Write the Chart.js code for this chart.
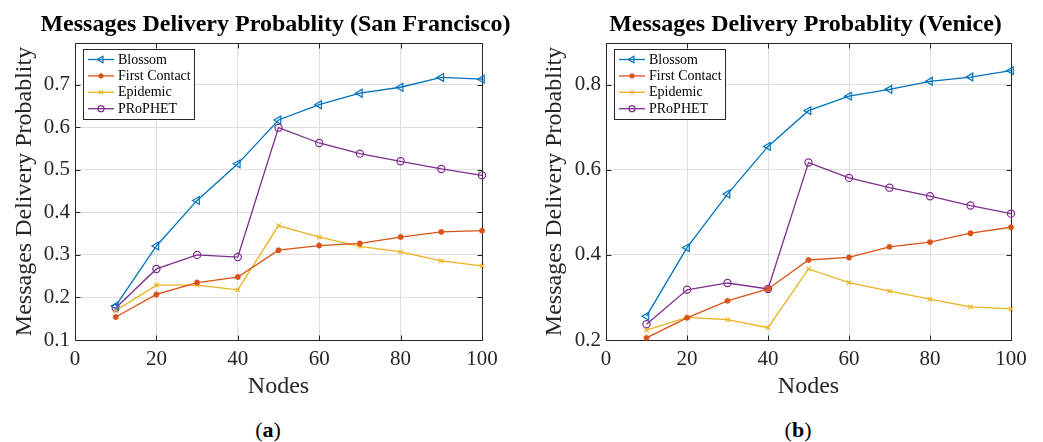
<!DOCTYPE html>
<html>
<head>
<meta charset="utf-8">
<title>Messages Delivery Probablity</title>
<script src="https://cdn.jsdelivr.net/npm/chart.js@4"></script>
<style>
  html, body { margin: 0; padding: 0; background: #fff; width: 1043px; height: 442px; overflow: hidden; }
  .panel { position: absolute; top: 0; }
  #panelA { left: 0; width: 530px; height: 405px; }
  #panelB { left: 530px; width: 513px; height: 405px; }
  .cap { position: absolute; top: 417px; width: 80px; height: 26px; line-height: 26px; text-align: center;
         font-family: "Liberation Serif", "Times New Roman", serif; font-size: 22px; color: #000; }
</style>
</head>
<body>
<div class="panel" id="panelA"><canvas id="chartA" width="530" height="405"></canvas></div>
<div class="panel" id="panelB"><canvas id="chartB" width="513" height="405"></canvas></div>
<div class="cap" style="left:228px">(<b>a</b>)</div>
<div class="cap" style="left:758px">(<b>b</b>)</div>
<script>
// ---- data ----
const nodes = [10, 20, 30, 40, 50, 60, 70, 80, 90, 100];
const xTickValues = [0, 20, 40, 60, 80, 100];
const seriesNames = ['Blossom', 'First Contact', 'Epidemic', 'PRoPHET'];

// San Francisco
const sfBlossom      = [0.180, 0.321, 0.428, 0.514, 0.617, 0.653, 0.680, 0.694, 0.717, 0.713];
const sfFirstContact = [0.154, 0.207, 0.235, 0.248, 0.311, 0.322, 0.327, 0.342, 0.354, 0.357];
const sfEpidemic     = [0.169, 0.229, 0.229, 0.218, 0.369, 0.342, 0.320, 0.307, 0.286, 0.274];
const sfProphet      = [0.175, 0.267, 0.300, 0.295, 0.599, 0.563, 0.538, 0.520, 0.502, 0.487];
const sfYTickValues  = [0.1, 0.2, 0.3, 0.4, 0.5, 0.6, 0.7];

// Venice
const veBlossom      = [0.256, 0.417, 0.543, 0.655, 0.739, 0.773, 0.789, 0.808, 0.818, 0.833];
const veFirstContact = [0.205, 0.252, 0.292, 0.320, 0.388, 0.394, 0.419, 0.430, 0.451, 0.465];
const veEpidemic     = [0.223, 0.253, 0.248, 0.229, 0.367, 0.335, 0.315, 0.296, 0.278, 0.273];
const veProphet      = [0.237, 0.318, 0.334, 0.320, 0.617, 0.581, 0.558, 0.538, 0.516, 0.497];
const veYTickValues  = [0.2, 0.4, 0.6, 0.8];

// ---- styles ----
const FONT = '"Liberation Serif", "Times New Roman", serif';
const AXIS_COLOR = '#262626';
const GRID_COLOR = '#dfdfdf';
const seriesStyles = [
  { color: '#0072BD', pointStyle: 'triangle', rotation: -90, radius: 4.5, fill: 'rgba(0,0,0,0)', pbw: 1.2 },
  { color: '#D95319', pointStyle: 'star',     rotation: 0,   radius: 3.0, fill: '#D95319',       pbw: 1.6 },
  { color: '#EDB120', pointStyle: 'crossRot', rotation: 0,   radius: 3.2, fill: 'rgba(0,0,0,0)', pbw: 1.1 },
  { color: '#7E2F8E', pointStyle: 'circle',   rotation: 0,   radius: 3.6, fill: 'rgba(0,0,0,0)', pbw: 1.2 }
];

function makeDatasets(seriesValues) {
  return seriesValues.map((vals, i) => {
    const s = seriesStyles[i];
    return {
      label: seriesNames[i],
      data: nodes.map((n, k) => ({ x: n, y: vals[k] })),
      borderColor: s.color,
      borderWidth: 1.3,
      pointStyle: s.pointStyle,
      pointRotation: s.rotation,
      pointRadius: s.radius,
      pointBackgroundColor: s.fill,
      pointBorderColor: s.color,
      pointBorderWidth: s.pbw,
      tension: 0,
      clip: false
    };
  });
}

// Box around the plot area with inward tick marks on all four sides
const axesBox = {
  id: 'axesBox',
  beforeDatasetsDraw(chart) {
    const { ctx, chartArea: a, scales } = chart;
    const L = Math.round(a.left) + 0.5, R = Math.round(a.right) + 0.5;
    const T = Math.round(a.top) + 0.5, B = Math.round(a.bottom) + 0.5;
    ctx.save();
    ctx.strokeStyle = AXIS_COLOR;
    ctx.lineWidth = 1;
    ctx.strokeRect(L, T, R - L, B - T);
    const len = 5;
    ctx.beginPath();
    scales.x.ticks.forEach(t => {
      const px = Math.round(scales.x.getPixelForValue(t.value)) + 0.5;
      ctx.moveTo(px, B); ctx.lineTo(px, B - len);
      ctx.moveTo(px, T); ctx.lineTo(px, T + len);
    });
    scales.y.ticks.forEach(t => {
      const py = Math.round(scales.y.getPixelForValue(t.value)) + 0.5;
      ctx.moveTo(L, py); ctx.lineTo(L + len, py);
      ctx.moveTo(R, py); ctx.lineTo(R - len, py);
    });
    ctx.stroke();
    ctx.restore();
  }
};

// Legend box drawn inside the plot, top-left corner
const insideLegend = {
  id: 'insideLegend',
  afterDatasetsDraw(chart, args, opts) {
    const { ctx, chartArea: a } = chart;
    const x0 = Math.round(a.left + opts.dx) + 0.5, y0 = Math.round(a.top + opts.dy) + 0.5;
    ctx.save();
    ctx.fillStyle = '#fff';
    ctx.fillRect(x0, y0, opts.w, opts.h);
    ctx.strokeStyle = AXIS_COLOR;
    ctx.lineWidth = 1;
    ctx.strokeRect(x0, y0, opts.w, opts.h);
    chart.data.datasets.forEach((ds, i) => {
      const y = y0 + 10 + i * 16.4;
      ctx.strokeStyle = ds.borderColor;
      ctx.lineWidth = ds.borderWidth;
      ctx.beginPath();
      ctx.moveTo(x0 + 4.5, y); ctx.lineTo(x0 + 30.5, y);
      ctx.stroke();
      ctx.fillStyle = ds.pointBackgroundColor;
      ctx.strokeStyle = ds.pointBorderColor;
      ctx.lineWidth = ds.pointBorderWidth;
      Chart.helpers.drawPoint(ctx, {
        pointStyle: ds.pointStyle, rotation: ds.pointRotation,
        radius: ds.pointRadius * 0.85, borderWidth: ds.pointBorderWidth
      }, x0 + 17.5, y);
      ctx.fillStyle = '#000';
      ctx.font = '14px ' + FONT;
      ctx.textAlign = 'left';
      ctx.textBaseline = 'middle';
      ctx.fillText(ds.label, x0 + 34.5, y + 0.5);
    });
    ctx.restore();
  }
};

// Bold heading centred over the plot area
const plotHeading = {
  id: 'plotHeading',
  afterDraw(chart, args, opts) {
    const { ctx, chartArea: a } = chart;
    ctx.save();
    ctx.fillStyle = '#000';
    ctx.font = 'bold ' + opts.size + 'px ' + FONT;
    ctx.textAlign = 'center';
    ctx.textBaseline = 'middle';
    ctx.fillText(opts.text, (a.left + a.right) / 2 + opts.shift, opts.y);
    ctx.restore();
  }
};

function makeChart(canvasId, heading, seriesValues, yMin, yMax, yTicks, yWidth, rightPad) {
  return new Chart(document.getElementById(canvasId), {
    type: 'line',
    data: { datasets: makeDatasets(seriesValues) },
    plugins: [axesBox, insideLegend, plotHeading],
    options: {
      responsive: false,
      animation: false,
      events: [],
      layout: { padding: { top: 43, right: rightPad, bottom: 0, left: 0 } },
      plugins: {
        legend: { display: false },
        tooltip: { enabled: false },
        insideLegend: { dx: 7.5, dy: 5.5, w: 111, h: 70 },
        plotHeading: { text: heading, size: 24, y: 25, shift: -3 }
      },
      scales: {
        x: {
          type: 'linear',
          min: 0, max: 100,
          afterBuildTicks(scale) { scale.ticks = xTickValues.map(v => ({ value: v })); },
          afterFit(scale) { scale.height = 65; },
          ticks: { color: AXIS_COLOR, font: { family: FONT, size: 21 }, padding: 7, maxRotation: 0,
                   callback: v => String(v) },
          grid: { color: GRID_COLOR, drawTicks: false, lineWidth: 1 },
          border: { display: false },
          title: { display: true, text: 'Nodes', color: AXIS_COLOR,
                   font: { family: FONT, size: 24 }, padding: { top: 0, bottom: 3.6 } }
        },
        y: {
          type: 'linear',
          min: yMin, max: yMax,
          afterBuildTicks(scale) { scale.ticks = yTicks.map(v => ({ value: v })); },
          afterFit(scale) { scale.width = yWidth; },
          ticks: { color: AXIS_COLOR, font: { family: FONT, size: 21 }, padding: 5,
                   callback: v => Number(v).toFixed(1) },
          grid: { color: GRID_COLOR, drawTicks: false, lineWidth: 1 },
          border: { display: false },
          title: { display: true, text: 'Messages Delivery Probablity', color: AXIS_COLOR,
                   font: { family: FONT, size: 24 }, padding: { top: 10, bottom: 0 } }
        }
      }
    }
  });
}

makeChart('chartA', 'Messages Delivery Probablity (San Francisco)',
  [sfBlossom, sfFirstContact, sfEpidemic, sfProphet], 0.1, 0.798, sfYTickValues, 75, 48);
makeChart('chartB', 'Messages Delivery Probablity (Venice)',
  [veBlossom, veFirstContact, veEpidemic, veProphet], 0.2, 0.898, veYTickValues, 76, 32);
</script>
</body>
</html>
